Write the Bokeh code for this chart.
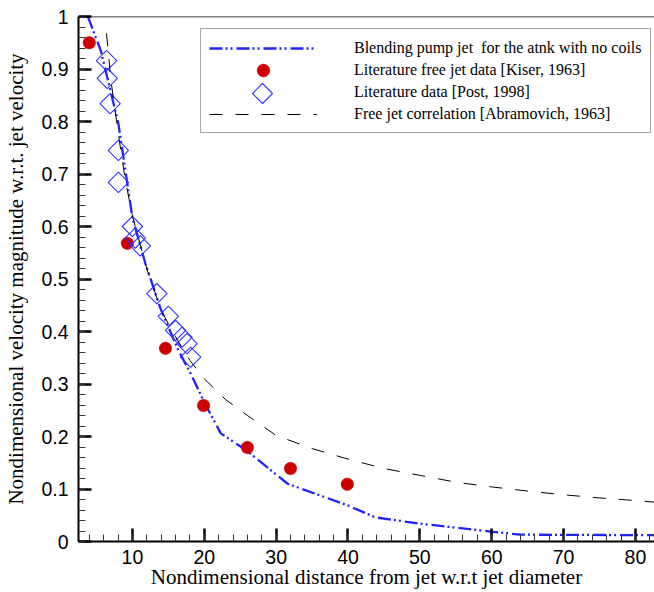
import math
from bokeh.plotting import figure
from bokeh.models import FixedTicker, Legend, LegendItem, Range1d, Span
from bokeh.embed import file_html
from bokeh.resources import INLINE

# ---------------- data ----------------
PUMP_X = [3.8, 5.6, 8.05, 10.0, 11.8, 13.9, 16.4, 18.1, 19.9, 22.3, 25.9, 31.6, 39.9, 43.8, 50.0, 59.8, 64.0, 82.6]
PUMP_Y = [1.0, 0.935, 0.796, 0.617, 0.53, 0.444, 0.364, 0.32, 0.268, 0.206, 0.173, 0.11, 0.069, 0.046, 0.034, 0.019, 0.013, 0.012]

KISER_X = [4.0, 9.3, 14.6, 19.9, 26.0, 32.0, 39.9]
KISER_Y = [0.95, 0.568, 0.368, 0.259, 0.179, 0.139, 0.109]

POST_X = [6.4, 6.5, 6.9, 8.05, 8.05, 10.0, 10.4, 11.1, 13.4, 15.0, 16.0, 16.9, 17.6, 18.1]
POST_Y = [0.916, 0.882, 0.834, 0.745, 0.684, 0.60, 0.578, 0.563, 0.472, 0.429, 0.402, 0.389, 0.377, 0.351]

CORR_X = [6.4, 7.0, 8.0, 9.0, 10.0, 12.0, 14.0, 16.0, 18.0, 20.0, 23.0, 26.0, 30.0, 35.0,
          40.0, 45.0, 50.0, 55.0, 60.0, 65.0, 70.0, 75.0, 80.0, 82.6]
CORR_Y = [0.968, 0.88, 0.78, 0.69, 0.62, 0.52, 0.44, 0.39, 0.345, 0.31, 0.27, 0.24, 0.202, 0.177,
          0.157, 0.139, 0.126, 0.113, 0.104, 0.096, 0.089, 0.083, 0.078, 0.075]

LABELS = ["Blending pump jet  for the atnk with no coils",
          "Literature free jet data [Kiser, 1963]",
          "Literature data [Post, 1998]",
          "Free jet correlation [Abramovich, 1963]"]

X_TICKS = [10, 20, 30, 40, 50, 60, 70, 80]
X_TICK_LABELS = ["10", "20", "30", "40", "50", "60", "70", "80"]
Y_TICKS = [0, 0.1, 0.2, 0.3, 0.4, 0.5, 0.6, 0.7, 0.8, 0.9, 1.0]
Y_TICK_LABELS = ["0", "0.1", "0.2", "0.3", "0.4", "0.5", "0.6", "0.7", "0.8", "0.9", "1"]

X_START, X_END = 2.5, 82.65
Y_START, Y_END = 0.0, 1.0

X_LABEL = "Nondimensional distance from jet w.r.t jet diameter"
Y_LABEL = "Nondimensional velocity magnitude w.r.t. jet velocity"

# ---------------- figure ----------------
p = figure(width=654, height=592,
           min_border_left=78, min_border_right=0, min_border_top=16, min_border_bottom=51,
           x_range=Range1d(X_START, X_END), y_range=Range1d(Y_START, Y_END),
           output_backend="svg", toolbar_location=None)
p.outline_line_color = None
p.xgrid.visible = False
p.ygrid.visible = False
p.background_fill_color = "white"
p.border_fill_color = "white"

x_minor = [4 + 2 * i for i in range(40)]
y_minor = [round(0.02 * i, 2) for i in range(51)]
p.xaxis.ticker = FixedTicker(ticks=X_TICKS, minor_ticks=x_minor)
p.yaxis.ticker = FixedTicker(ticks=Y_TICKS, minor_ticks=y_minor)
p.xaxis.major_label_overrides = dict(zip(X_TICKS, X_TICK_LABELS))
p.yaxis.major_label_overrides = dict(zip(Y_TICKS, Y_TICK_LABELS))

for ax in (p.xaxis, p.yaxis):
    ax.axis_line_width = 2
    ax.axis_line_color = "black"
    ax.major_tick_in = 13
    ax.major_tick_out = 0
    ax.minor_tick_in = 7
    ax.minor_tick_out = 0
    ax.major_tick_line_width = 2.5
    ax.major_tick_line_color = "black"
    ax.minor_tick_line_width = 1
    ax.minor_tick_line_color = "#333333"
    ax.major_label_text_font = "Liberation Sans"
    ax.major_label_text_font_size = "19.5px"
    ax.major_label_text_color = "black"
    ax.axis_label_text_font = "Liberation Serif"
    ax.axis_label_text_font_size = "21px"
    ax.axis_label_text_font_style = "normal"
    ax.axis_label_text_color = "black"

p.xaxis.axis_label = X_LABEL
p.yaxis.axis_label = Y_LABEL
p.xaxis.major_label_standoff = 8
p.xaxis.axis_label_standoff = -2
p.yaxis.major_label_standoff = 10
p.yaxis.axis_label_standoff = 10

# top frame line
p.add_layout(Span(location=Y_END, dimension="width", line_color="black", line_width=1.5))

BLUE = "#2222ff"
DIAMOND_BLUE = "#3333ff"
RED = "#cc0000"
DASH_DOT_DOT = "13 3 2 3 2 4"
r_pump = p.line(PUMP_X, PUMP_Y, line_color=BLUE, line_width=2.3, line_dash=DASH_DOT_DOT)
r_kiser = p.ellipse(KISER_X, KISER_Y, width=12.5, height=12.5,
                    width_units="screen", height_units="screen",
                    fill_color=RED, line_color=RED, line_width=0.5)
if hasattr(p, "ngon"):
    r_post = p.ngon(POST_X, POST_Y, radius=10.2, radius_units="screen", n=4,
                    fill_color=None, line_color=DIAMOND_BLUE, line_width=1.1)
    # invisible key for the boxed legend row; the visible key is drawn by a second legend
    r_post_blank = p.ngon(POST_X[:1], POST_Y[:1], radius=10.2, radius_units="screen", n=4,
                          fill_color=None, line_color=DIAMOND_BLUE, line_alpha=0.0, visible=False)
else:
    r_post = p.scatter(POST_X, POST_Y, marker="square", size=14.5, angle=math.pi / 4,
                       fill_color=None, line_color=DIAMOND_BLUE, line_width=1.1)
    r_post_blank = p.scatter(POST_X[:1], POST_Y[:1], marker="square", size=14.5,
                             fill_color=None, line_alpha=0.0, visible=False)
r_corr = p.line(CORR_X, CORR_Y, line_color="black", line_width=1, line_dash="13 13")

legend = Legend(items=[LegendItem(label=LABELS[0], renderers=[r_pump]),
                       LegendItem(label=LABELS[1], renderers=[r_kiser]),
                       LegendItem(label=LABELS[2], renderers=[r_post_blank]),
                       LegendItem(label=LABELS[3], renderers=[r_corr])],
                location=(122, 408))
legend.click_policy = "none"
legend.padding = 8
legend.margin = 0
legend.spacing = 1
legend.glyph_width = 108
legend.glyph_height = 16
legend.label_height = 21
legend.label_standoff = 37
legend.label_text_font = "Liberation Serif"
legend.label_text_font_size = "16px"
legend.label_text_color = "black"
legend.border_line_color = "#4d4d4d"
legend.border_line_width = 1.2
legend.background_fill_color = "white"
legend.background_fill_alpha = 1.0
p.add_layout(legend)

# second, borderless legend that only draws the full-size diamond key
key = Legend(items=[LegendItem(label=" ", renderers=[r_post])], location=(159, 423))
key.click_policy = "none"
key.padding = 0
key.margin = 0
key.glyph_width = 50
key.glyph_height = 50
key.label_height = 0
key.label_standoff = 0
key.label_text_font_size = "1px"
key.border_line_color = None
key.background_fill_alpha = 0.0
p.add_layout(key)

open("out.html", "w").write(file_html(p, INLINE))
